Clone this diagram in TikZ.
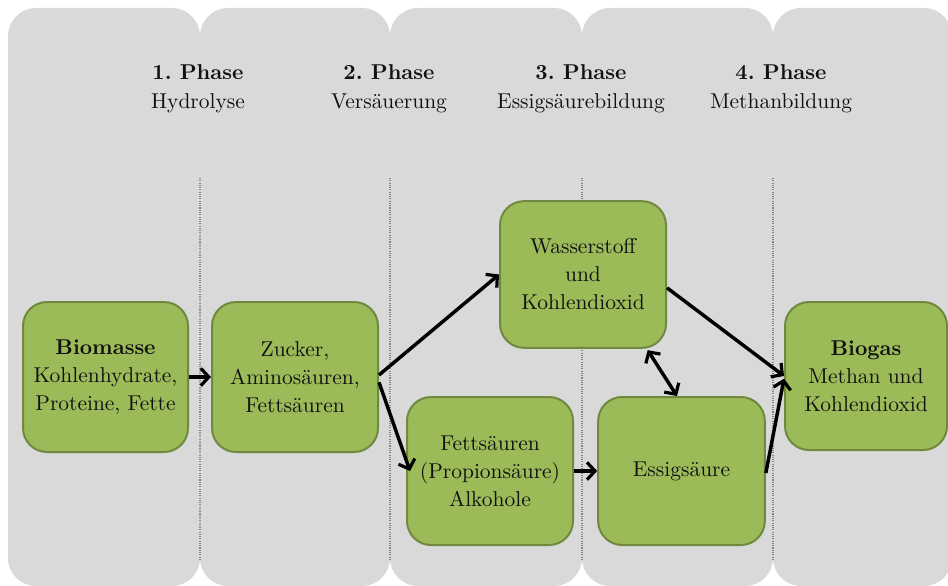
\documentclass[tikz,border=0pt]{standalone}
\usepackage{fontspec}
\setmainfont{lmroman10}[Extension=.otf, UprightFont=*-regular, BoldFont=*-bold, ItalicFont=*-italic, BoldItalicFont=*-bolditalic]
\usetikzlibrary{arrows.meta}
\frenchspacing
\definecolor{colgray}{HTML}{D9D9D9}
\definecolor{boxgreen}{HTML}{9BBB59}
\definecolor{boxborder}{HTML}{71893F}
\definecolor{dotgray}{HTML}{858585}
\definecolor{txt}{HTML}{111111}
\tikzset{
  column/.style={fill=colgray, rounded corners=21pt},
  dotline/.style={draw=dotgray, line width=0.9pt, dash pattern=on 0.8pt off 0.9pt},
  phase/.style={align=center, text=txt, font=\fontsize{16.1}{21.75}\selectfont},
  stage/.style={draw=boxborder, fill=boxgreen, line width=1.5pt, rounded corners=18pt,
    align=center, text=txt, font=\fontsize{16.1}{21}\selectfont, inner sep=0pt},
  flow/.style={line width=2.6pt, -{Straight Barb[length=6pt,width=13pt,line width=2.4pt]}},
  flow2/.style={line width=2.6pt, {Straight Barb[length=6pt,width=13pt,line width=2.4pt]}-{Straight Barb[length=6pt,width=13pt,line width=2.4pt]}}
}
\begin{document}
\begin{tikzpicture}[x=0.75pt,y=-0.75pt]
\clip (0,0) rectangle (948,585);
\fill[white] (0,0) rectangle (948,585);
% background columns
\fill[column] (8,8) rectangle (200,586);
\fill[column] (200,8) rectangle (390,586);
\fill[column] (390,8) rectangle (582,586);
\fill[column] (582,8) rectangle (773,586);
\fill[column] (773,8) rectangle (952,586);
% dotted separators
\draw[dotline] (200,178) -- (200,560);
\draw[dotline] (390,178) -- (390,560);
\draw[dotline] (582,178) -- (582,560);
\draw[dotline] (773,178) -- (773,560);
% phase headings
\node[phase] (p1) at (198,89) {\textbf{1. Phase}\\Hydrolyse};
\node[phase] (p2) at (389,89) {\textbf{2. Phase}\\Versäuerung};
\node[phase] (p3) at (581,89) {\textbf{3. Phase}\\Essigsäurebildung};
\node[phase] (p4) at (781,89) {\textbf{4. Phase}\\Methanbildung};
% stages
\node[stage, minimum width=123.75pt, minimum height=112.5pt] (bio) at (105.5,377) {\textbf{Biomasse}\\Kohlenhydrate,\\Proteine, Fette};
\node[stage, minimum width=124.5pt, minimum height=112.5pt] (zuc) at (295,377) {Zucker,\\Aminosäuren,\\Fettsäuren};
\node[stage, minimum width=124.5pt, minimum height=110pt] (was) at (583,274.5) {Wasserstoff\\und\\Kohlendioxid};
\node[stage, minimum width=124.5pt, minimum height=111pt] (fet) at (490,471) {Fettsäuren\\(Propionsäure)\\Alkohole};
\node[stage, minimum width=125pt, minimum height=111pt] (ess) at (681.5,471) {Essigsäure};
\node[stage, minimum width=121.5pt, minimum height=111pt] (gas) at (866,376) {\textbf{Biogas}\\Methan und\\Kohlendioxid};
% connectors
\draw[flow] (bio.east) -- (zuc.west);
\draw[flow] ([yshift=1.5pt]zuc.east) -- (was.west);
\draw[flow] ([yshift=-4pt]zuc.east) -- ([xshift=3pt]fet.west);
\draw[flow] ([yshift=-10pt]was.east) -- (gas.west);
\draw[flow] ([yshift=-1.5pt]ess.east) -- ([yshift=-2pt]gas.west);
\draw[flow] (fet.east) -- (ess.west);
\draw[flow2] ([xshift=48.5pt,yshift=-1pt]was.south) -- ([xshift=-3.4pt]ess.north);
\end{tikzpicture}
\end{document}
